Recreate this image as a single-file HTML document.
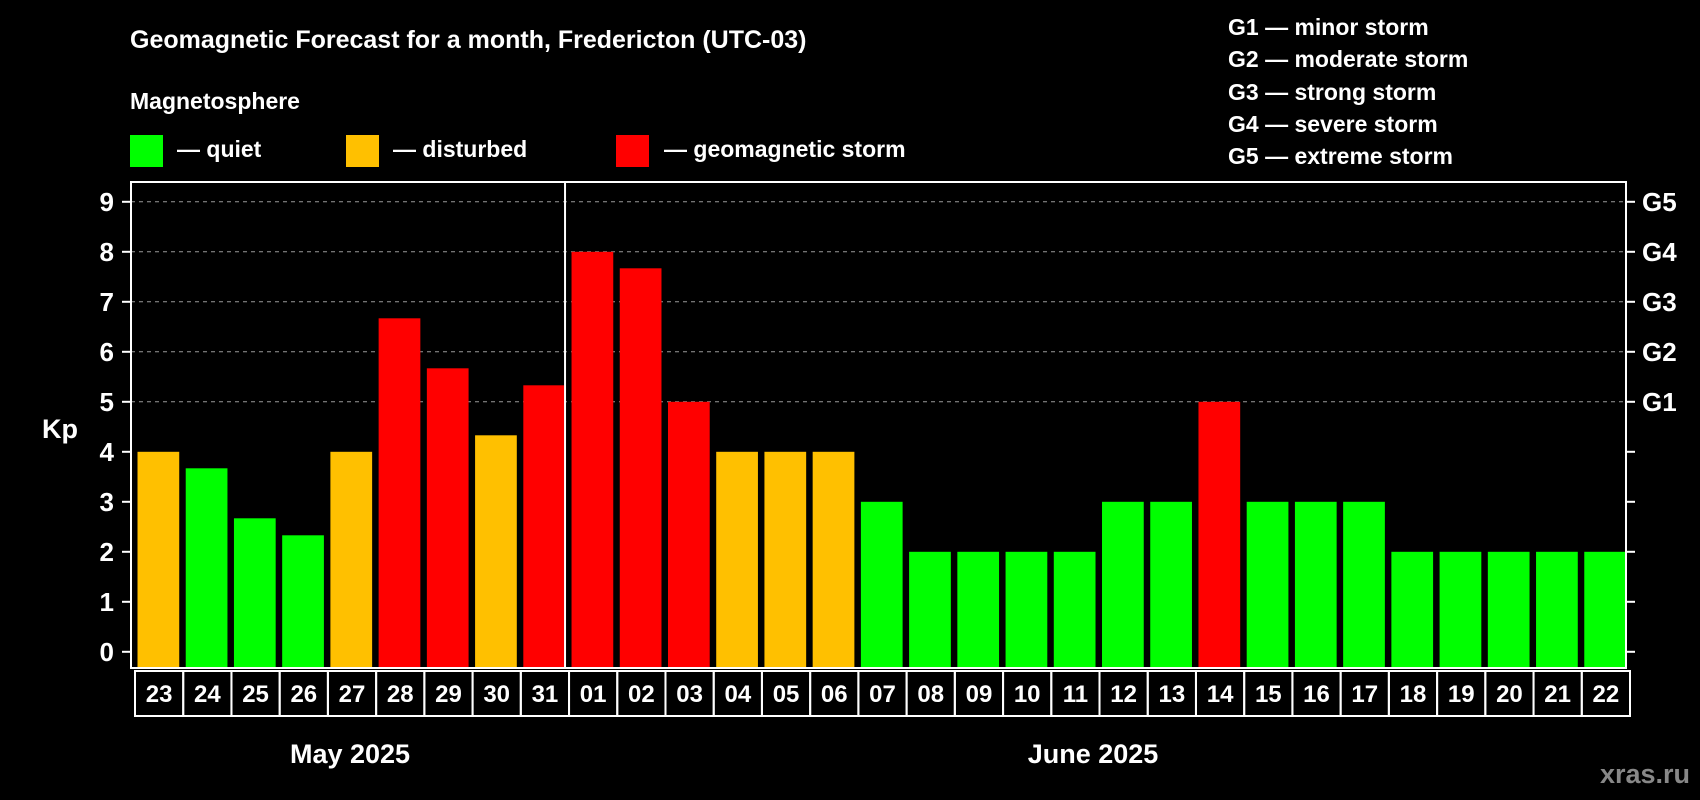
<!DOCTYPE html>
<html><head><meta charset="utf-8"><style>
body{margin:0;background:#000;}
svg{display:block;font-family:"Liberation Sans",Arial,sans-serif;font-weight:bold;}
</style></head><body>
<svg id="c" width="1700" height="800" viewBox="0 0 1700 800">
<rect width="1700" height="800" fill="#000"/>
<text x="130" y="48" fill="#fff" font-size="25">Geomagnetic Forecast for a month, Fredericton (UTC-03)</text>
<text x="130" y="109" fill="#fff" font-size="23">Magnetosphere</text>
<rect x="130" y="135" width="33" height="32" fill="#00ff00"/>
<text x="177" y="157" fill="#fff" font-size="23">— quiet</text>
<rect x="346" y="135" width="33" height="32" fill="#ffc000"/>
<text x="393" y="157" fill="#fff" font-size="23">— disturbed</text>
<rect x="616" y="135" width="33" height="32" fill="#ff0000"/>
<text x="664" y="157" fill="#fff" font-size="23">— geomagnetic storm</text>
<g fill="#fff" font-size="23">
<text x="1228" y="35">G1 — minor storm</text>
<text x="1228" y="67">G2 — moderate storm</text>
<text x="1228" y="100">G3 — strong storm</text>
<text x="1228" y="132">G4 — severe storm</text>
<text x="1228" y="164">G5 — extreme storm</text>
</g>
<text x="42" y="438" fill="#fff" font-size="27">Kp</text>
<text x="350" y="763" fill="#fff" font-size="27" text-anchor="middle">May 2025</text>
<text x="1093" y="763" fill="#fff" font-size="27" text-anchor="middle">June 2025</text>
<text x="1690" y="783" fill="#888" font-size="27" text-anchor="end">xras.ru</text>
<g id="plot"></g>
</svg>
<script>
const days=["23","24","25","26","27","28","29","30","31","01","02","03","04","05","06","07","08","09","10","11","12","13","14","15","16","17","18","19","20","21","22"];
const kp=[4,3.67,2.67,2.33,4,6.67,5.67,4.33,5.33,8,7.67,5,4,4,4,3,2,2,2,2,3,3,5,3,3,3,2,2,2,2,2];
const yTicks=[0,1,2,3,4,5,6,7,8,9];
const gLabels=["G1","G2","G3","G4","G5"];
const gLevels=[5,6,7,8,9];
const NS="http://www.w3.org/2000/svg";
const g=document.getElementById('plot');
const L=131,R=1626,T=182,B=668;
const slot=(R-L)/days.length;
const y=v=>651.8-v*50.0;
const x=i=>L+i*slot;
function mk(t,a){const e=document.createElementNS(NS,t);for(const k in a)e.setAttribute(k,a[k]);g.appendChild(e);return e;}
yTicks.forEach(v=>{
 if(v>=5){const l=mk('line',{x1:L,x2:R,y1:y(v),y2:y(v),stroke:'#999','stroke-width':1,'stroke-dasharray':'4,4'});
 
 }
 const t1=mk('line',{x1:L-9,x2:L,y1:y(v),y2:y(v),stroke:'#fff','stroke-width':2});
 
 
 const t2=mk('line',{x1:R,x2:R+9,y1:y(v),y2:y(v),stroke:'#fff','stroke-width':2});
 
 
 const tx=mk('text',{x:114,y:y(v)+9,fill:'#fff','font-size':26,'text-anchor':'end'});tx.textContent=v;
 
 
});
gLabels.forEach((s,i)=>{const t=mk('text',{x:1642,y:y(gLevels[i])+9,fill:'#fff','font-size':26});t.textContent=s;
 
 });
kp.forEach((v,i)=>{
 const c=v>=5?'#ff0000':(v>=4?'#ffc000':'#00ff00');
 const r=mk('rect',{x:x(i)+6.5,y:y(v),width:slot-6.5,height:B-1-y(v),fill:c});
 
 
 const b=mk('rect',{x:x(i)+4,y:671,width:slot,height:45,fill:'none',stroke:'#fff','stroke-width':2});
 
 
 const t=mk('text',{x:x(i)+4+slot/2,y:702,fill:'#fff','font-size':24,'text-anchor':'middle'});t.textContent=days[i];
 
 
});
const fr=mk('rect',{x:L,y:T,width:R-L,height:B-T,fill:'none',stroke:'#fff','stroke-width':2});


const dv=mk('line',{x1:x(9),x2:x(9),y1:T,y2:B,stroke:'#fff','stroke-width':2});


</script>
</body></html>
